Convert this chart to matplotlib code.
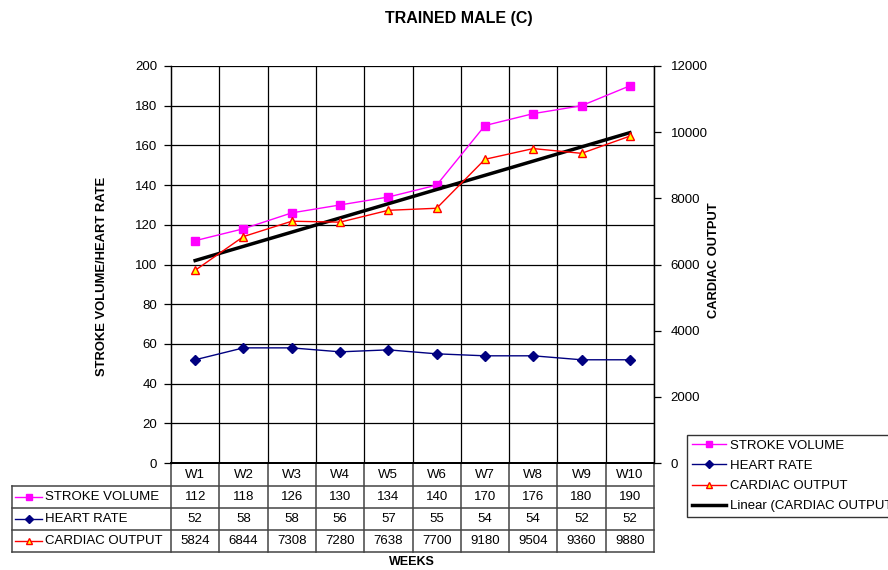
import numpy as np
import matplotlib
matplotlib.use("Agg")
import matplotlib.pyplot as plt
from matplotlib.lines import Line2D
from matplotlib.transforms import blended_transform_factory

plt.rcParams['font.family'] = ['Liberation Sans', 'DejaVu Sans']

weeks = ["W1", "W2", "W3", "W4", "W5", "W6", "W7", "W8", "W9", "W10"]
stroke_volume = [112, 118, 126, 130, 134, 140, 170, 176, 180, 190]
heart_rate = [52, 58, 58, 56, 57, 55, 54, 54, 52, 52]
cardiac_output = [5824, 6844, 7308, 7280, 7638, 7700, 9180, 9504, 9360, 9880]

SV_COL = "#FF00FF"
HR_COL = "#000080"
CO_COL = "#FF0000"

fig = plt.figure(figsize=(8.88, 5.70), dpi=100)
ax = fig.add_axes([171 / 888, 1 - 463 / 570, 483 / 888, 397 / 570])
ax2 = ax.twinx()

x = np.arange(len(weeks))
fs = 9.5

# left axis: stroke volume and heart rate
ax.plot(x, stroke_volume, color=SV_COL, lw=1, marker="s", ms=6,
        mfc=SV_COL, mec=SV_COL, label="STROKE VOLUME", zorder=4)
ax.plot(x, heart_rate, color=HR_COL, lw=1, marker="D", ms=5,
        mfc=HR_COL, mec=HR_COL, label="HEART RATE", zorder=4)
ax.set_ylim(0, 200)
ax.set_xlim(-0.5, len(weeks) - 0.5)
ax.set_yticks(range(0, 201, 20))
ax.set_xticks([])
ax.grid(False)
for yv in range(20, 201, 20):
    ax.axhline(yv, color="black", lw=0.9, zorder=1)
for b in np.arange(-0.5, len(weeks), 1.0)[1:]:
    ax.axvline(b, color="black", lw=0.9, zorder=1)

# right axis: cardiac output + linear trend
ax2.plot(x, cardiac_output, color=CO_COL, lw=1, marker="^", ms=6,
         mfc="#FFFF00", mec=CO_COL, mew=1, label="CARDIAC OUTPUT", zorder=4)
slope, icpt = np.polyfit(x + 1, cardiac_output, 1)
ax2.plot(x, slope * (x + 1) + icpt, color="black", lw=2.5,
         label="Linear (CARDIAC OUTPUT)", zorder=3)
ax2.set_ylim(0, 12000)
ax2.set_yticks(range(0, 12001, 2000))

for a in (ax, ax2):
    a.tick_params(labelsize=fs, length=5, width=0.9, colors="black")
    a.spines["top"].set_visible(False)
    a.spines["bottom"].set_linewidth(1.4)
    a.spines["left"].set_linewidth(0.9)
    a.spines["right"].set_linewidth(0.9)
ax.tick_params(axis="y", pad=5)
ax2.tick_params(axis="y", pad=7)

ax.set_ylabel("STROKE VOLUME/HEART RATE", fontsize=9.4, fontweight="bold")
ax.yaxis.set_label_coords((108 - 171) / 483, (463 - 276) / 397)
ax2.set_ylabel("CARDIAC OUTPUT", fontsize=9.3, fontweight="bold")
ax2.yaxis.set_label_coords((708 - 171) / 483, (463 - 260) / 397)
fig.text(459 / 888, 1 - 18 / 570, "TRAINED MALE (C)", ha="center", va="center",
         fontsize=11.5, fontweight="bold")
fig.text(412 / 888, 1 - 562 / 570, "WEEKS", ha="center", va="center",
         fontsize=9, fontweight="bold")

# data table under the axis
tb = blended_transform_factory(ax.transData, ax.transAxes)
ph = 397.0
hdr = 23 / ph
rh = 22 / ph
row_tops = [-hdr, -hdr - rh, -hdr - 2 * rh, -hdr - 3 * rh]
left_edge = (12 - 171) / 483
lc = dict(color="#444444", lw=1.1, clip_on=False)

for b in np.arange(-0.5, len(weeks) + 0.5, 1.0):
    ax.plot([b, b], [0, row_tops[-1]], transform=tb, **lc)
for yt in row_tops:
    ax.plot([left_edge, 1], [yt, yt], transform=ax.transAxes, **lc)
ax.plot([left_edge, left_edge], [row_tops[0], row_tops[-1]], transform=ax.transAxes, **lc)

for i, w in enumerate(weeks):
    ax.text(i, -hdr / 2, w, transform=tb, ha="center", va="center", fontsize=fs)

rows = [
    ("STROKE VOLUME", stroke_volume, SV_COL, dict(marker="s", ms=5, mfc=SV_COL, mec=SV_COL)),
    ("HEART RATE", heart_rate, HR_COL, dict(marker="D", ms=4, mfc=HR_COL, mec=HR_COL)),
    ("CARDIAC OUTPUT", cardiac_output, CO_COL, dict(marker="^", ms=5, mfc="#FFFF00", mec=CO_COL)),
]
for k, (name, vals, col, mk) in enumerate(rows):
    yc = row_tops[k] - rh / 2
    ax.plot([(15 - 171) / 483, (42 - 171) / 483], [yc, yc], color=col, lw=1,
            transform=ax.transAxes, clip_on=False)
    ax.plot([(28.5 - 171) / 483], [yc], transform=ax.transAxes, clip_on=False,
            ls="none", **mk)
    ax.text((45 - 171) / 483, yc, name, transform=ax.transAxes, ha="left",
            va="center", fontsize=fs)
    for i, v in enumerate(vals):
        ax.text(i, yc, str(v), transform=tb, ha="center", va="center", fontsize=fs)

handles = [
    Line2D([], [], color=SV_COL, lw=1, marker="s", ms=5, mfc=SV_COL, mec=SV_COL),
    Line2D([], [], color=HR_COL, lw=1, marker="D", ms=4, mfc=HR_COL, mec=HR_COL),
    Line2D([], [], color=CO_COL, lw=1, marker="^", ms=5, mfc="#FFFF00", mec=CO_COL),
    Line2D([], [], color="black", lw=2.5),
]
labels = ["STROKE VOLUME", "HEART RATE", "CARDIAC OUTPUT", "Linear (CARDIAC OUTPUT)"]
leg = fig.legend(handles, labels, loc="upper left",
                 bbox_to_anchor=(687 / 888, 1 - 435 / 570), fontsize=fs,
                 frameon=True, fancybox=False, edgecolor="black",
                 handlelength=2.6, handletextpad=0.3, labelspacing=0.6,
                 borderpad=0.35, borderaxespad=0)
leg.get_frame().set_linewidth(1.0)

fig.savefig("out.png", dpi=100)
